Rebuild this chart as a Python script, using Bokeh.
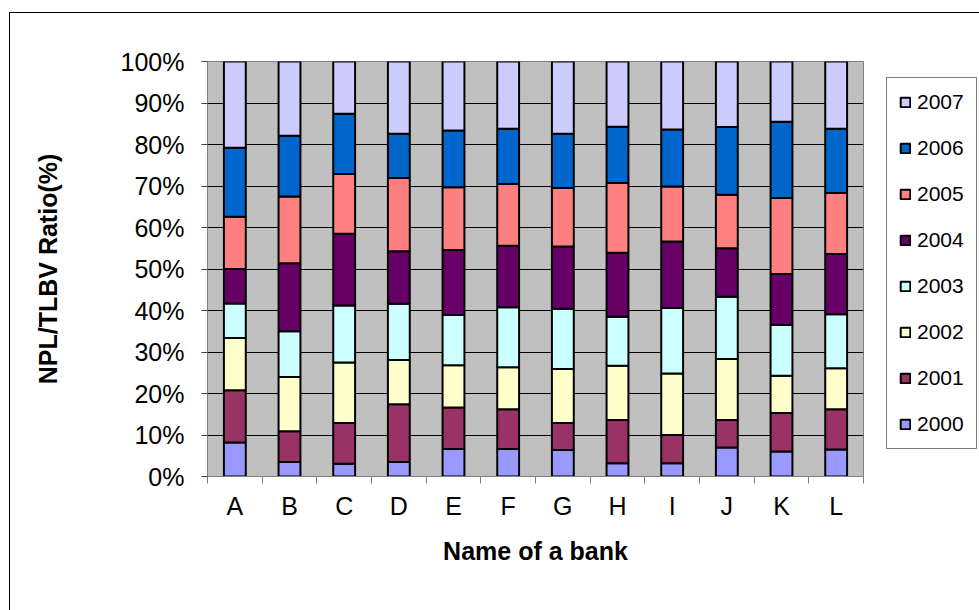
from bokeh.plotting import figure
from bokeh.models import (Range1d, FixedTicker, PrintfTickFormatter, Legend,
                          LegendItem, ColumnDataSource)
from bokeh.embed import file_html
from bokeh.resources import INLINE

banks = ["A", "B", "C", "D", "E", "F", "G", "H", "I", "J", "K", "L"]
years = ["2000", "2001", "2002", "2003", "2004", "2005", "2006", "2007"]

y2000 = [8.2, 3.5, 3.1, 3.5, 6.6, 6.6, 6.4, 3.2, 3.2, 7.0, 6.0, 6.5]
y2001 = [12.6, 7.4, 9.8, 13.9, 10.0, 9.6, 6.5, 10.4, 6.8, 6.6, 9.3, 9.7]
y2002 = [12.6, 13.1, 14.6, 10.7, 10.2, 10.1, 13.0, 13.1, 14.8, 14.7, 9.0, 9.9]
y2003 = [8.3, 11.0, 13.7, 13.5, 12.1, 14.5, 14.5, 11.8, 15.8, 15.0, 12.2, 13.0]
y2004 = [8.3, 16.4, 17.3, 12.7, 15.7, 14.8, 15.0, 15.4, 16.0, 11.7, 12.3, 14.5]
y2005 = [12.6, 16.1, 14.4, 17.6, 15.1, 14.9, 14.1, 16.8, 13.3, 12.9, 18.3, 14.7]
y2006 = [16.6, 14.6, 14.5, 10.7, 13.7, 13.3, 13.1, 13.6, 13.7, 16.3, 18.4, 15.5]
y2007 = [20.8, 17.9, 12.6, 17.4, 16.6, 16.2, 17.4, 15.7, 16.4, 15.8, 14.5, 16.2]

y_ticks = [0, 10, 20, 30, 40, 50, 60, 70, 80, 90, 100]

colors = ["#9999FF", "#993366", "#FFFFCC", "#CCFFFF",
          "#660066", "#FF8080", "#0066CC", "#CCCCFF"]

x = [i + 0.5 for i in range(len(banks))]
series = [y2000, y2001, y2002, y2003, y2004, y2005, y2006, y2007]
data = {"x": x}
for yr, s in zip(years, series):
    data[yr] = s
src = ColumnDataSource(data)

FONT = "Liberation Sans"

p = figure(frame_width=656, frame_height=415,
           x_range=Range1d(0, len(banks)), y_range=Range1d(0, 100),
           output_backend="svg", toolbar_location=None,
           min_border_left=197, min_border_right=110,
           min_border_top=48, min_border_bottom=134)
p.styles = {"border-left": "1px solid #000000", "border-top": "1px solid #000000",
            "margin-left": "9px", "margin-top": "12px"}

p.background_fill_color = "#C0C0C0"
p.border_fill_color = "white"
p.outline_line_color = "#808080"
p.outline_line_width = 1

rs = p.vbar_stack(years, x="x", width=0.4, source=src,
                  fill_color=colors, line_color="black", line_width=2)

# axes
p.xaxis.ticker = FixedTicker(ticks=x, minor_ticks=list(range(len(banks) + 1)))
p.xaxis.major_label_overrides = {xi: b for xi, b in zip(x, banks)}
p.xaxis.major_tick_line_color = None
p.xaxis.minor_tick_in = 0
p.xaxis.minor_tick_out = 7
p.xaxis.minor_tick_line_color = "#808080"
p.xaxis.axis_line_color = "#808080"
p.xaxis.major_label_standoff = 8
p.xaxis.axis_label = "Name of a bank"
p.xaxis.axis_label_standoff = 14

p.yaxis.ticker = FixedTicker(ticks=y_ticks)
p.yaxis.formatter = PrintfTickFormatter(format="%d%%")
p.yaxis.major_tick_in = 0
p.yaxis.major_tick_out = 6
p.yaxis.minor_tick_line_color = None
p.yaxis.major_tick_line_color = "#404040"
p.yaxis.axis_line_color = "#808080"
p.yaxis.major_label_standoff = 17
p.yaxis.axis_label = "NPL/TLBV Ratio(%)"
p.yaxis.axis_label_standoff = 56

for ax in (p.xaxis[0], p.yaxis[0]):
    ax.major_label_text_font = FONT
    ax.major_label_text_font_size = "25px"
    ax.major_label_text_color = "black"
    ax.axis_label_text_font = FONT
    ax.axis_label_text_font_size = "25px"
    ax.axis_label_text_font_style = "bold"
    ax.axis_label_text_color = "black"

p.xgrid.grid_line_color = None
p.ygrid.grid_line_color = "black"
p.ygrid.grid_line_width = 1

items = [LegendItem(label=yr, renderers=[r]) for yr, r in zip(years, rs)][::-1]
legend = Legend(items=items, location=(23, 27), margin=0, padding=12,
                spacing=22, glyph_width=12, glyph_height=12, label_height=21,
                label_standoff=6, label_text_font=FONT,
                label_text_font_size="21px", label_text_color="black",
                border_line_color="black", border_line_width=1,
                background_fill_color="white", background_fill_alpha=1)
p.add_layout(legend, "right")

open("out.html", "w").write(file_html(p, INLINE))
